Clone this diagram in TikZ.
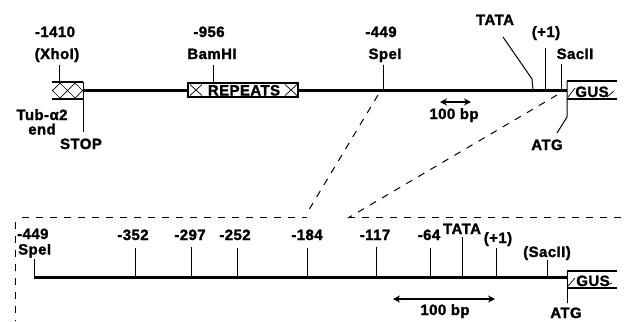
\documentclass[tikz,border=0pt]{standalone}
\usepackage{fontspec}
\setmainfont{Liberation Sans}[LetterSpace=3, BoldFeatures={FakeBold=1.6}]
\usetikzlibrary{arrows.meta}
\begin{document}
\begin{tikzpicture}[x=1bp,y=-1bp,
  lab/.style={font=\fontsize{15}{15}\selectfont\bfseries, inner sep=0pt, anchor=base},
  tick/.style={line width=1bp},
  dna/.style={line width=3bp},
  boxl/.style={line width=1.4bp},
  thin/.style={line width=0.7bp},
  zoomline/.style={dash pattern=on 7bp off 7bp, line width=1bp},
  scalebar/.style={line width=1.8bp, {Stealth[length=7bp,width=7bp]}-{Stealth[length=7bp,width=7bp]}}]
\useasboundingbox (0,0) rectangle (628,321);

% ---------------- top map ----------------
\coordinate (tL) at (83,90);
\coordinate (tR) at (567,90);
\draw[dna] (tL) -- (tR);

% Tub-alpha2 hatched end
\begin{scope}
  \clip (52,82) rectangle (83,99);
  \foreach \c in {37.5,52.5,67.5,82.5,97.5}
    \draw[thin] (\c-8.5,82) -- (\c+8.5,99) (\c+8.5,82) -- (\c-8.5,99);
\end{scope}
\draw[boxl] (52,82) -- (83,82) (52,99) -- (83,99);
\coordinate (stopTop) at (83,82);
\coordinate (stopBot) at (83,132);
\draw[tick] (stopTop) -- (stopBot);
\node[lab] (tub) at (42,120) {Tub-α2};
\node[lab] (tubend) at (42,134.5) {end};
\node[lab] (stop) at (81,149) {STOP};

% XhoI
\node[lab] (n1410) at (55,37) {-1410};
\node[lab] (xho) at (57,59) {(XhoI)};
\coordinate (xhoT) at (59,65);
\coordinate (xhoB) at (59,82);
\draw[tick] (xhoT) -- (xhoB);

% REPEATS box
\node[draw, boxl, fill=white, inner sep=0pt, minimum width=110bp, minimum height=14bp] (rep) at (243,90) {};
\draw[thin] (190,84.5) -- (202,95.5) (190,95.5) -- (202,84.5);
\draw[thin] (285,84.5) -- (297,95.5) (285,95.5) -- (297,84.5);
\node[lab] (reptxt) at (244,95.5) {REPEATS};

% BamHI
\node[lab] (n956) at (209,37) {-956};
\node[lab] (bam) at (212,59) {BamHI};
\coordinate (bamT) at (213,65);
\draw[tick] (bamT) -- (rep.north -| bamT);

% SpeI
\node[lab] (n449) at (381,37) {-449};
\node[lab] (spe) at (385,59) {SpeI};
\coordinate (speT) at (383,65);
\coordinate (speB) at (383,90);
\draw[tick] (speT) -- (speB);

% TATA
\node[lab] (tata) at (495,25) {TATA};
\coordinate (tataA) at (503,37);
\coordinate (tataB) at (532,79);
\coordinate (tataC) at (533,90);
\draw[tick] (tataA) -- (tataB) -- (tataC);

% +1
\node[lab] (p1) at (546,37) {(+1)};
\coordinate (p1T) at (545,48);
\coordinate (p1B) at (545,90);
\draw[tick] (p1T) -- (p1B);

% SacII
\node[lab] (sac) at (575,59) {SacII};
\coordinate (sacT) at (561,64);
\coordinate (sacB) at (561,90);
\draw[tick] (sacT) -- (sacB);

% GUS top
\draw[boxl] (617,81) -- (567,81) (567,99) -- (617,99);
\draw[thin] (568,97) -- (575,88) (607,97) -- (614,91);
\node[lab] (gus1) at (592,97) {GUS};
\coordinate (atgA) at (567,81);
\coordinate (atgB) at (567,117);
\coordinate (atgC) at (557,133);
\draw[tick] (atgA) -- (atgB) -- (atgC);
\node[lab] (atg1) at (547,150) {ATG};

% top scale bar
\coordinate (s1a) at (440,102);
\coordinate (s1b) at (471,102);
\draw[scalebar] (s1a) -- (s1b);
\node[lab] (bp1) at (454,119) {100 bp};

% ---------------- zoom lines ----------------
\coordinate (zA) at (378,95);
\coordinate (zB) at (307,213);
\coordinate (zC) at (557,95);
\coordinate (zD) at (348,218);
\draw[zoomline] (zA) -- (zB);
\draw[zoomline] (zC) -- (zD);
\draw[zoomline] (22,217) -- (zB |- 22,217);
\draw[zoomline] (zD |- 22,217) -- (628,217);
\draw[zoomline] (15,222) -- (15,321);

% ---------------- bottom map ----------------
\coordinate (bL) at (34,277);
\coordinate (bR) at (567,277);
\draw[dna] (bL) -- (bR);

\node[lab, anchor=base west] (b449) at (17,239) {-449};
\node[lab, anchor=base west] (bspe) at (18,254.5) {SpeI};
\coordinate (b449T) at (34,259);
\draw[tick] (b449T) -- (bL);

\foreach \x/\tp/\lx/\t in {135/248/133/-352, 191/247/190/-297, 237/248/235/-252, 307/248/307/-184, 376/247/375/-117, 430/248/429/-64}{
  \node[lab] (bl\x) at (\lx,240) {\t};
  \coordinate (bt\x) at (\x,\tp);
  \draw[tick] (bt\x) -- (\x,277);
}
\node[lab] (btata) at (462,234) {TATA};
\coordinate (btataT) at (462,237);
\draw[tick] (btataT) -- (462,277);
\node[lab] (bp1l) at (498,243) {(+1)};
\coordinate (bp1T) at (496,248);
\draw[tick] (bp1T) -- (496,277);
\node[lab] (bsac) at (547,257) {(SacII)};
\coordinate (bsacT) at (547,260);
\draw[tick] (bsacT) -- (547,277);

% GUS bottom
\draw[boxl] (617,271) -- (567,271) (567,288) -- (617,288);
\draw[thin] (568,286) -- (575,278) (605,286) -- (612,283);
\node[lab] (gus2) at (593,286) {GUS};
\coordinate (batgA) at (567,271);
\coordinate (batgB) at (567,303);
\draw[tick] (batgA) -- (batgB);
\node[lab] (atg2) at (566,318) {ATG};

% bottom scale bar
\coordinate (s2a) at (393,299);
\coordinate (s2b) at (495,299);
\draw[scalebar] (s2a) -- (s2b);
\node[lab] (bp2) at (445,315) {100 bp};
\end{tikzpicture}
\end{document}
